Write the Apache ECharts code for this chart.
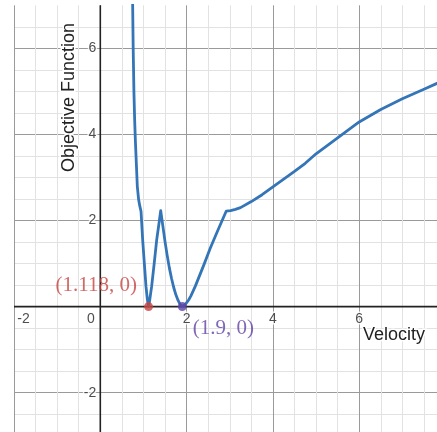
<!DOCTYPE html>
<html>
<head>
<meta charset="utf-8">
<script src="https://cdn.jsdelivr.net/npm/echarts@6/dist/echarts.min.js"></script>
<style>
  html, body { margin: 0; padding: 0; background: #fff; }
  #chart { width: 437px; height: 432px; }
</style>
</head>
<body>
<div id="chart"></div>
<script>
// Objective function sampled along velocity
const velocity = [
  0.735, 0.750, 0.762, 0.779, 0.796, 0.812, 0.835, 0.858, 0.889, 0.915, 0.944,
  0.982, 1.020, 1.059, 1.090, 1.118, 1.140, 1.190, 1.250, 1.307, 1.360, 1.400,
  1.450, 1.500, 1.550, 1.600, 1.650, 1.700, 1.750, 1.800, 1.850, 1.900,
  1.950, 2.000, 2.050, 2.100, 2.200, 2.300, 2.400, 2.550, 2.710, 2.920,
  3.020, 3.130, 3.250, 3.500, 3.750, 4.000, 4.250, 4.500, 4.750, 5.000,
  5.500, 6.000, 6.500, 7.000, 7.500, 7.900
];
const objective = [
  7.60, 7.00, 6.00, 5.00, 4.34, 3.88, 3.33, 2.79, 2.48, 2.34, 2.21,
  1.55, 1.01, 0.47, 0.17, 0.00, 0.12, 0.47, 1.01, 1.55, 1.93, 2.23,
  1.87, 1.51, 1.19, 0.90, 0.66, 0.45, 0.28, 0.15, 0.05, 0.00,
  0.04, 0.09, 0.16, 0.25, 0.47, 0.72, 0.97, 1.36, 1.74, 2.22,
  2.23, 2.26, 2.30, 2.44, 2.60, 2.78, 2.96, 3.14, 3.33, 3.55,
  3.92, 4.29, 4.58, 4.83, 5.05, 5.23
];

// Marked minima
const markedX = [1.118, 1.9];
const markedY = [0, 0];
const markedText = ['(1.118, 0)', '(1.9, 0)'];

// Visible ranges of the two axes
const xRange = [-2, 8];
const yRange = [-3, 7];

// Tick labels drawn along the axes through the origin
const xTickValues = [-2, 0, 2, 4, 6];
const yTickValues = [-2, 2, 4, 6];

const curve = velocity.map((v, i) => [v, objective[i]]);

const MAJOR = '#9a9a9a';
const MINOR = '#e2e2e2';
const AXIS = '#222';
const SANS = '"Liberation Sans", Arial, sans-serif';
const SERIF = '"Liberation Serif", "Times New Roman", serif';

const tickText = {
  fontFamily: SANS,
  fontSize: 14,
  color: '#222',
  textBorderColor: '#fff',
  textBorderWidth: 3
};

// The labels for -2 and 0 on the x axis sit a little to the side of their grid line
function xLabelShift(v) {
  if (v === -2) return [9.5, 0];
  if (v === 0) return [-9.5, 0];
  return [0, 0];
}

const xTickData = xTickValues.map(v => ({
  value: [v, 0],
  label: Object.assign({}, tickText, {
    show: true,
    formatter: String(v),
    position: 'bottom',
    distance: 6,
    offset: xLabelShift(v)
  })
}));

const yTickData = yTickValues.map(v => ({
  value: [0, v],
  label: Object.assign({}, tickText, {
    show: true,
    formatter: String(v),
    position: 'left',
    distance: 4
  })
}));

function axisSeries(points) {
  return {
    type: 'line',
    data: points,
    showSymbol: false,
    silent: true,
    clip: true,
    z: 3,
    lineStyle: { color: AXIS, width: 1.6 }
  };
}

const chart = echarts.init(document.getElementById('chart'), null, { renderer: 'canvas' });

chart.setOption({
  animation: false,
  backgroundColor: '#fff',
  grid: {
    left: 14, right: -8.5, top: 5.3, bottom: -3.75,
    containLabel: false,
    outerBoundsMode: 'none'
  },
  xAxis: {
    type: 'value',
    min: xRange[0],
    max: xRange[1],
    interval: 0.5,
    axisLine: { show: false },
    axisTick: { show: false },
    axisLabel: { show: false },
    splitLine: {
      show: true,
      showMinLine: true,
      lineStyle: { color: [MAJOR, MINOR, MINOR, MINOR], width: 1 }
    }
  },
  yAxis: {
    type: 'value',
    min: yRange[0],
    max: yRange[1],
    interval: 0.5,
    axisLine: { show: false },
    axisTick: { show: false },
    axisLabel: { show: false },
    splitLine: {
      show: true,
      showMinLine: true,
      showMaxLine: false,
      lineStyle: { color: [MINOR, MINOR, MAJOR, MINOR], width: 1 }
    }
  },
  graphic: [
    {
      type: 'text',
      x: 69,
      y: 97.5,
      rotation: Math.PI / 2,
      z: 100,
      style: {
        text: 'Objective Function',
        font: '18px ' + SANS,
        fill: '#222',
        align: 'center',
        verticalAlign: 'middle',
        stroke: '#fff',
        lineWidth: 3
      }
    },
    {
      type: 'text',
      x: 425,
      y: 335.5,
      z: 100,
      style: {
        text: 'Velocity',
        font: '18px ' + SANS,
        fill: '#222',
        align: 'right',
        verticalAlign: 'middle',
        stroke: '#fff',
        lineWidth: 3
      }
    }
  ],
  series: [
    // coordinate axes through the origin
    axisSeries([[0, yRange[0]], [0, yRange[1]]]),
    axisSeries([[xRange[0], 0], [xRange[1], 0]]),
    {
      type: 'line',
      data: curve,
      showSymbol: false,
      smooth: false,
      clip: true,
      z: 5,
      lineStyle: { color: '#3475b8', width: 2.8, join: 'round', cap: 'round' }
    },
    {
      type: 'scatter',
      z: 6,
      symbolSize: 9,
      data: [
        {
          value: [markedX[0], markedY[0]],
          itemStyle: { color: '#c74440' },
          label: {
            show: true,
            formatter: markedText[0],
            position: 'left',
            distance: 5,
            offset: [-2, -21],
            color: '#c74440',
            fontFamily: SERIF,
            fontSize: 21
          }
        },
        {
          value: [markedX[1], markedY[1]],
          itemStyle: { color: '#6042a6' },
          label: {
            show: true,
            formatter: markedText[1],
            position: 'right',
            distance: 5,
            offset: [1, 22],
            color: '#6042a6',
            fontFamily: SERIF,
            fontSize: 21
          }
        }
      ]
    },
    {
      // x tick labels
      type: 'scatter',
      silent: true,
      clip: false,
      z: 4,
      symbolSize: 0,
      itemStyle: { color: 'transparent' },
      data: xTickData
    },
    {
      // y tick labels
      type: 'scatter',
      silent: true,
      clip: false,
      z: 4,
      symbolSize: 0,
      itemStyle: { color: 'transparent' },
      data: yTickData
    }
  ]
});
</script>
</body>
</html>
